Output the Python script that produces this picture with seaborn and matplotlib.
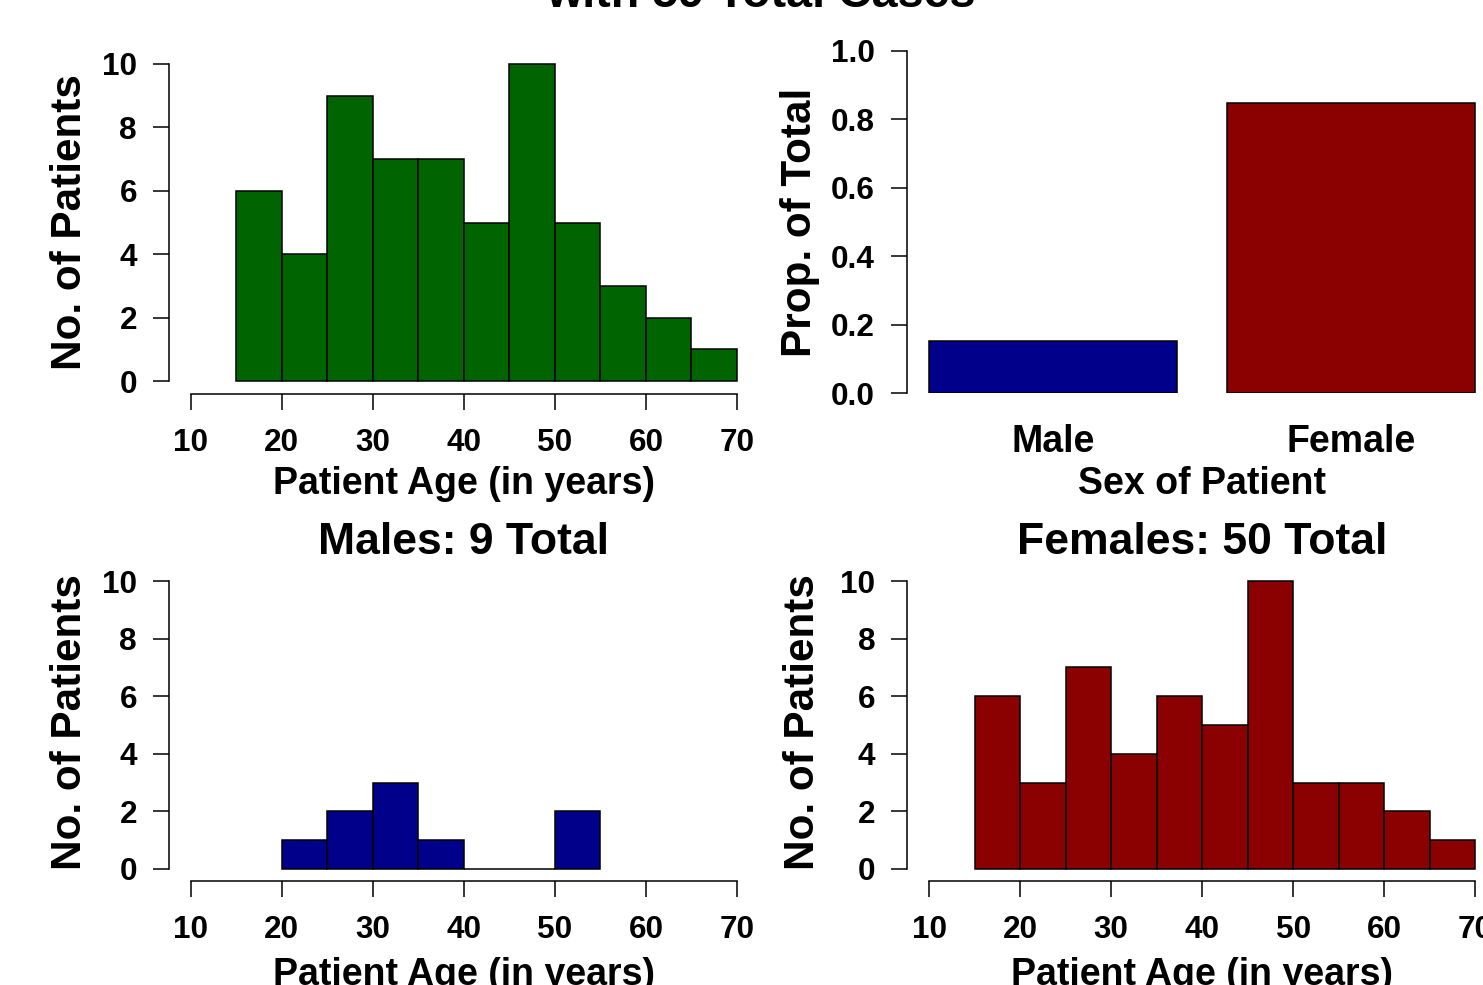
import numpy as np
import matplotlib
matplotlib.use("Agg")
import matplotlib.pyplot as plt
import seaborn as sns

# ---- data ----
age_edges_all = [15, 20, 25, 30, 35, 40, 45, 50, 55, 60, 65, 70]
age_counts_all = [6, 4, 9, 7, 7, 5, 10, 5, 3, 2, 1]
age_edges_male = [20, 25, 30, 35, 40, 45, 50, 55]
age_counts_male = [1, 2, 3, 1, 0, 0, 2]
age_edges_female = [15, 20, 25, 30, 35, 40, 45, 50, 55, 60, 65, 70]
age_counts_female = [6, 3, 7, 4, 6, 5, 10, 3, 3, 2, 1]
sex_labels = ["Male", "Female"]
sex_counts = [9, 50]
x_ticks = [10, 20, 30, 40, 50, 60, 70]
y_ticks_count = [0, 2, 4, 6, 8, 10]
y_ticks_prop = [0.0, 0.2, 0.4, 0.6, 0.8, 1.0]

GREEN = "#006400"
BLUE = "#00008B"
RED = "#8B0000"

plt.rcParams["font.family"] = ["Liberation Sans", "DejaVu Sans"]
plt.rcParams["font.weight"] = "bold"

W, H = 1483, 985
DPI = 100
fig = plt.figure(figsize=(W / DPI, H / DPI), dpi=DPI)
fig.patch.set_facecolor("white")

TICK_FS = 22.7
LAB_FS = 27
YLAB_FS = 30.4
TITLE_FS = 32
LW = 1.1
TICKLEN = 11.5


def add_ax(l, t, r, b):
    return fig.add_axes([l / W, 1 - b / H, (r - l) / W, (b - t) / H])


def ftext(x, y, s, size, **kw):
    fig.text(x / W, 1 - y / H, s, fontsize=size, fontweight="bold",
             ha=kw.pop("ha", "center"), va=kw.pop("va", "center"), **kw)


def style_axes(ax, xbounds=None, ybounds=None):
    for sp in ["top", "right"]:
        ax.spines[sp].set_visible(False)
    for sp in ["left", "bottom"]:
        ax.spines[sp].set_linewidth(LW)
        ax.spines[sp].set_color("black")
    if ybounds is not None:
        ax.spines["left"].set_bounds(*ybounds)
    if xbounds is not None:
        ax.spines["bottom"].set_bounds(*xbounds)
    ax.tick_params(axis="both", direction="out", length=TICKLEN, width=LW,
                   labelsize=TICK_FS, colors="black")
    ax.tick_params(axis="y", pad=11.5)
    ax.tick_params(axis="x", pad=13)
    for lab in ax.get_xticklabels() + ax.get_yticklabels():
        lab.set_fontweight("bold")
    ax.set_xlabel("")
    ax.set_ylabel("")
    ax.set_facecolor("white")


def hist_panel(ax, edges, counts, color):
    centers = [(edges[i] + edges[i + 1]) / 2 for i in range(len(counts))]
    sns.histplot(x=centers, weights=counts, bins=edges, color=color,
                 edgecolor="black", linewidth=LW, alpha=1, ax=ax)
    ax.set_xlim(7.6, 72.4)
    ax.set_ylim(-0.4, 10.4)
    ax.set_xticks(x_ticks)
    ax.set_xticklabels([str(v) for v in x_ticks])
    ax.set_yticks(y_ticks_count)
    ax.set_yticklabels([str(v) for v in y_ticks_count])
    style_axes(ax, xbounds=(10, 70), ybounds=(0, 10))


# ---- panel 1: all ages ----
ax1 = add_ax(169, 51.3, 758.8, 393.7)
hist_panel(ax1, age_edges_all, age_counts_all, GREEN)
ftext(464, 484, "Patient Age (in years)", LAB_FS)
ftext(70, 222, "No. of Patients", YLAB_FS, rotation=90)

# ---- panel 2: proportion by sex ----
ax2 = add_ax(907, 51, 1497, 393)
total = sum(sex_counts)
props = [c / total for c in sex_counts]
sns.barplot(x=sex_labels, y=props, hue=sex_labels, palette=[BLUE, RED],
            width=0.832, edgecolor="black", linewidth=LW, saturation=1,
            legend=False, ax=ax2)
ax2.set_xlim(-0.49, 1.49)
ax2.set_ylim(0, 1)
ax2.set_yticks(y_ticks_prop)
ax2.set_yticklabels([f"{v:.1f}" for v in y_ticks_prop])
style_axes(ax2, ybounds=(0, 1))
ax2.spines["bottom"].set_visible(False)
ax2.tick_params(axis="x", length=0, pad=22, labelsize=LAB_FS)
for lab in ax2.get_xticklabels():
    lab.set_fontweight("bold")
ftext(1202, 484, "Sex of Patient", LAB_FS)
ftext(800, 222, "Prop. of Total", YLAB_FS, rotation=90)

# ---- panel 3: males ----
ax3 = add_ax(169, 569.5, 758.8, 880.5)
hist_panel(ax3, age_edges_male, age_counts_male, BLUE)
ftext(464, 542, f"Males: {sum(age_counts_male)} Total", TITLE_FS)
ftext(464, 975, "Patient Age (in years)", LAB_FS)
ftext(70, 722, "No. of Patients", YLAB_FS, rotation=90)

# ---- panel 4: females ----
ax4 = add_ax(907.2, 569.5, 1497, 880.5)
hist_panel(ax4, age_edges_female, age_counts_female, RED)
ftext(1202, 542, f"Females: {sum(age_counts_female)} Total", TITLE_FS)
ftext(1202, 975, "Patient Age (in years)", LAB_FS)
ftext(803, 722, "No. of Patients", YLAB_FS, rotation=90)

# ---- overall title (cut at the top edge) ----
ftext(761, 7, f"Distribution of Patient Ages\nwith {total} Total Cases", 33.6,
      va="baseline", linespacing=1.2)

fig.savefig("out.png", dpi=DPI, facecolor="white")
